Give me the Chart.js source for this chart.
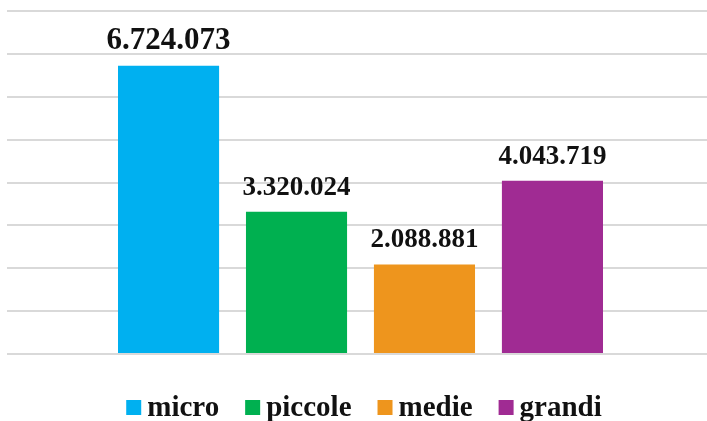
<!DOCTYPE html>
<html>
<head>
<meta charset="utf-8">
<script src="https://cdn.jsdelivr.net/npm/chart.js@4.4.0/dist/chart.umd.min.js"></script>
<style>
  html, body { margin: 0; padding: 0; background: #fff; overflow: hidden; }
  #wrap { width: 707px; height: 421px; overflow: hidden; }
</style>
</head>
<body>
<div id="wrap"><canvas id="chart" width="714" height="421"></canvas></div>
<script>
// Data
const categories = ['micro', 'piccole', 'medie', 'grandi'];
const values = [6724073, 3320024, 2088881, 4043719];
const colors = ['#00B0F0', '#00B050', '#EE951D', '#A02B93'];
const labelSizes = [31, 27, 27, 27];

const FONT = '"Liberation Serif", "Times New Roman", serif';

// 6724073 -> "6.724.073"
function fmt(n) {
  return String(n).replace(/\B(?=(\d{3})+(?!\d))/g, '.');
}

// value labels above bars
const valueLabels = {
  id: 'valueLabels',
  afterDatasetsDraw(chart) {
    const ctx = chart.ctx;
    ctx.save();
    ctx.fillStyle = '#111';
    ctx.textAlign = 'center';
    ctx.textBaseline = 'alphabetic';
    chart.data.datasets.forEach((ds, i) => {
      const bar = chart.getDatasetMeta(i).data[0];
      if (!bar) return;
      ctx.font = 'bold ' + labelSizes[i] + 'px ' + FONT;
      ctx.fillText(fmt(ds.data[0]), bar.x, bar.y - 17);
    });
    ctx.restore();
  }
};

// legend drawn by hand so the box/text gap matches
const bottomLegend = {
  id: 'bottomLegend',
  afterDraw(chart) {
    const ctx = chart.ctx;
    const box = 15, gap = 6, itemGap = 26;
    ctx.save();
    ctx.font = 'bold 29px ' + FONT;
    ctx.textBaseline = 'alphabetic';
    ctx.textAlign = 'left';
    const widths = chart.data.datasets.map(ds => ctx.measureText(ds.label).width);
    const total = widths.reduce((s, w) => s + box + gap + w, 0) + itemGap * (widths.length - 1);
    let x = 364 - total / 2;
    chart.data.datasets.forEach((ds, i) => {
      ctx.fillStyle = ds.backgroundColor;
      ctx.fillRect(x, 400, box, box);
      ctx.fillStyle = '#111';
      ctx.fillText(ds.label, x + box + gap, 416);
      x += box + gap + widths[i] + itemGap;
    });
    ctx.restore();
  }
};

new Chart(document.getElementById('chart'), {
  type: 'bar',
  data: {
    labels: [''],
    datasets: categories.map((c, i) => ({
      label: c,
      data: [values[i]],
      backgroundColor: colors[i],
      categoryPercentage: 0.724,
      barPercentage: 0.79
    }))
  },
  options: {
    responsive: false,
    animation: false,
    layout: { padding: { top: 11, left: 7, right: 0, bottom: 67 } },
    plugins: {
      legend: { display: false },
      tooltip: { enabled: false }
    },
    scales: {
      x: { display: false },
      y: {
        min: 0,
        max: 8000000,
        ticks: { display: false, stepSize: 1000000 },
        border: { display: false },
        grid: { color: '#D9D9D9', lineWidth: 2, drawTicks: false }
      }
    }
  },
  plugins: [valueLabels, bottomLegend]
});
</script>
</body>
</html>
